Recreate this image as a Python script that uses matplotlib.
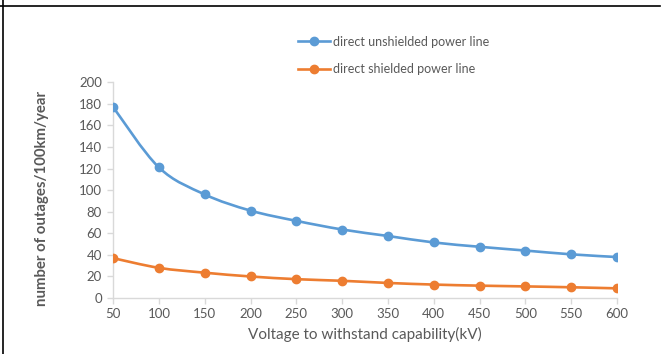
import numpy as np
import matplotlib.pyplot as plt
from matplotlib.path import Path
from matplotlib.patches import PathPatch
from matplotlib.lines import Line2D

# datos
voltage = [50, 100, 150, 200, 250, 300, 350, 400, 450, 500, 550, 600]
unshielded = [177, 121, 96, 81, 71.5, 63.5, 57.5, 51.5, 47.5, 44, 40.5, 38]
shielded = [37, 28, 23.5, 20, 17.5, 16, 14, 12.5, 11.5, 10.8, 10, 9]

x_ticks = list(range(50, 601, 50))
y_ticks = list(range(0, 201, 20))

blue = "#5B9BD5"
orange = "#ED7D31"
grey = "#595959"

plt.rcParams["font.family"] = ["Lato", "DejaVu Sans"]


def smooth_path(xs, ys, t=1 / 6):
    # curva tipo Excel (Catmull-Rom -> Bezier) a partir de los puntos
    xs = np.asarray(xs, float)
    ys = np.asarray(ys, float)
    verts = [(xs[0], ys[0])]
    codes = [Path.MOVETO]
    n = len(xs)
    for i in range(n - 1):
        p0 = (xs[max(i - 1, 0)], ys[max(i - 1, 0)])
        p1 = (xs[i], ys[i])
        p2 = (xs[i + 1], ys[i + 1])
        p3 = (xs[min(i + 2, n - 1)], ys[min(i + 2, n - 1)])
        c1 = (p1[0] + (p2[0] - p0[0]) * t, p1[1] + (p2[1] - p0[1]) * t)
        c2 = (p2[0] - (p3[0] - p1[0]) * t, p2[1] - (p3[1] - p1[1]) * t)
        verts += [c1, c2, p2]
        codes += [Path.CURVE4] * 3
    return Path(verts, codes)


fig = plt.figure(figsize=(6.65, 3.54), dpi=100)
ax = fig.add_axes([0.170, 0.158, 0.758, 0.610])

for ys, col in [(unshielded, blue), (shielded, orange)]:
    ax.add_patch(PathPatch(smooth_path(voltage, ys), facecolor="none",
                           edgecolor=col, lw=1.9, capstyle="round", zorder=2))
    ax.plot(voltage, ys, ls="none", marker="o", ms=6, color=col, zorder=3)

ax.set_xlim(50, 600)
ax.set_ylim(0, 200)
ax.set_xticks(x_ticks)
ax.set_yticks(y_ticks)
ax.tick_params(axis="both", colors="#d9d9d9", length=4, width=1, labelcolor=grey,
               labelsize=9.5)
ax.tick_params(axis="x", pad=3)
ax.tick_params(axis="y", pad=4)
for s in ["top", "right"]:
    ax.spines[s].set_visible(False)
for s in ["left", "bottom"]:
    ax.spines[s].set_color("#d9d9d9")
    ax.spines[s].set_linewidth(1)

ax.set_xlabel("Voltage to withstand capability(kV)", color=grey, fontsize=11, labelpad=5)
ax.set_ylabel("number of outages/100km/year", color=grey, fontsize=10.8,
              fontweight="bold")
ax.yaxis.set_label_coords(-0.141, 0.463)
ax.yaxis.label.set_va("center")

handles = [Line2D([], [], color=blue, lw=1.9, marker="o", ms=6),
           Line2D([], [], color=orange, lw=1.9, marker="o", ms=6)]
fig.legend(handles, ["direct unshielded power line", "direct shielded power line"],
           loc="upper left", bbox_to_anchor=(0.44, 0.913), frameon=False,
           fontsize=9, labelcolor=grey, handlelength=2.6, handletextpad=0.25,
           labelspacing=1.25, borderaxespad=0)

# bordes de la tabla
fig.add_artist(Line2D([0, 0.993], [0.983, 0.983], color="black", lw=1.2,
                      transform=fig.transFigure))
fig.add_artist(Line2D([0.005, 0.005], [0, 1], color="black", lw=1.2,
                      transform=fig.transFigure))

fig.savefig("out.png", dpi=100)
